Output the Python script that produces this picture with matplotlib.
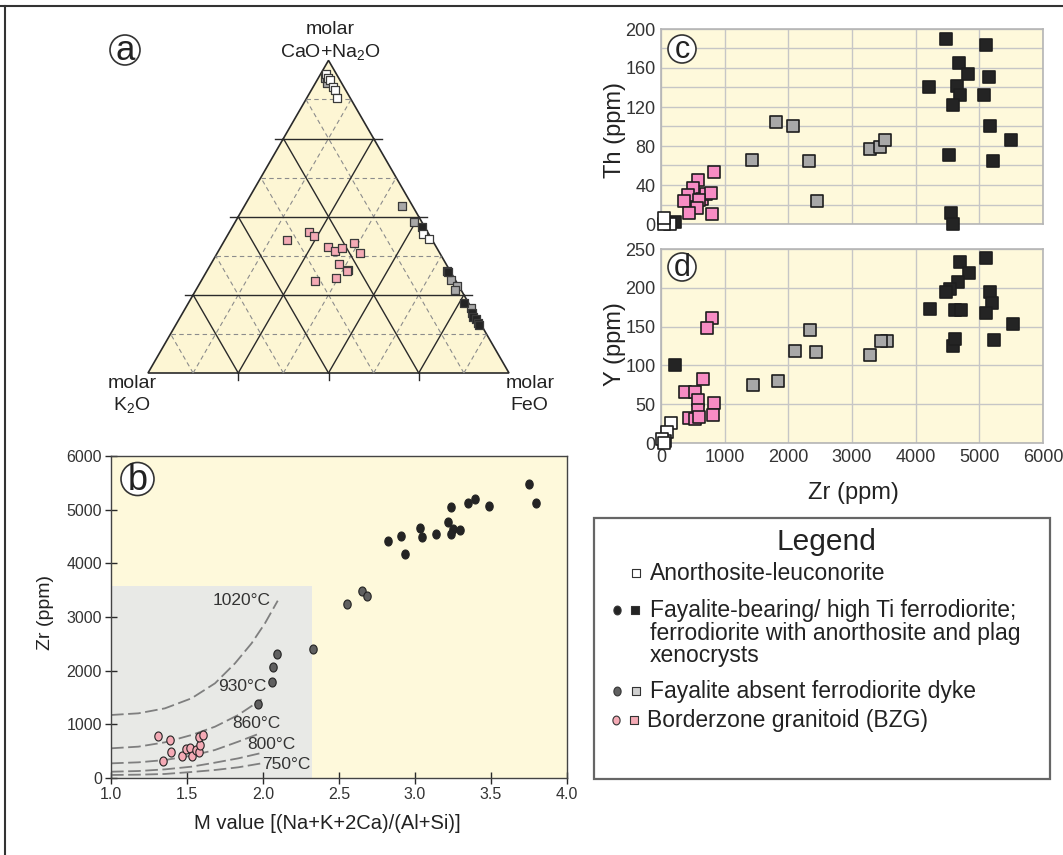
import numpy as np
import matplotlib
matplotlib.use("Agg")
import matplotlib.pyplot as plt
from matplotlib.path import Path
from matplotlib.patches import Polygon, Rectangle, Circle

plt.rcParams['font.family'] = ['Liberation Sans', 'DejaVu Sans']
plt.rcParams['mathtext.fontset'] = 'custom'
plt.rcParams['mathtext.rm'] = 'Liberation Sans'
plt.rcParams['mathtext.it'] = 'Liberation Sans:italic'

W, H = 1063, 855

# --- (a) ternary: molar CaO+Na2O (apex) and FeO fractions, K2O = remainder
tern_white_top = [0.955, 0.945, 0.936, 0.916, 0.904, 0.881, 0.444, 0.428]
tern_white_fe = [0.016, 0.026, 0.036, 0.054, 0.066, 0.083, 0.540, 0.564]
tern_gray_top = [0.942, 0.929, 0.534, 0.482, 0.299, 0.277, 0.267, 0.209]
tern_gray_fe = [0.019, 0.031, 0.437, 0.496, 0.689, 0.718, 0.717, 0.790]
tern_black_top = [0.466, 0.325, 0.322, 0.225, 0.193, 0.180, 0.174, 0.161, 0.154]
tern_black_fe = [0.526, 0.666, 0.670, 0.763, 0.801, 0.810, 0.822, 0.834, 0.840]
tern_pink_top = [0.424, 0.450, 0.437, 0.402, 0.389, 0.399, 0.415, 0.383,
                 0.350, 0.328, 0.325, 0.305, 0.293]
tern_pink_fe = [0.173, 0.221, 0.241, 0.298, 0.323, 0.338, 0.364, 0.396,
                0.354, 0.390, 0.389, 0.368, 0.316]

# --- (b) M value vs Zr
b_black_m = [3.748, 3.794, 3.488, 3.396, 3.350, 3.236, 3.218, 3.247, 3.295,
             3.234, 3.137, 3.032, 3.043, 2.905, 2.820, 2.936]
b_black_zr = [5485, 5131, 5075, 5206, 5119, 5051, 4771, 4647, 4623,
              4542, 4554, 4653, 4498, 4511, 4424, 4169]
b_gray_m = [2.653, 2.686, 2.555, 2.331, 2.095, 2.066, 2.062, 1.968]
b_gray_zr = [3493, 3394, 3251, 2407, 2308, 2060, 1781, 1384]
b_pink_m = [1.307, 1.385, 1.339, 1.396, 1.466, 1.491, 1.519, 1.534, 1.558,
            1.578, 1.587, 1.582, 1.602]
b_pink_zr = [788, 707, 323, 478, 416, 534, 552, 416, 521, 490, 620, 763, 807]

# zircon saturation isotherms
iso_labels = ['1020°C', '930°C', '860°C', '800°C', '750°C']
iso_m = [
    [1.0, 1.18, 1.355, 1.53, 1.684, 1.816, 1.925, 2.013, 2.097],
    [1.0, 1.18, 1.355, 1.53, 1.684, 1.837, 1.991],
    [1.0, 1.18, 1.355, 1.53, 1.684, 1.837, 1.98],
    [1.0, 1.18, 1.355, 1.53, 1.684, 1.837, 1.98],
    [1.0, 1.18, 1.355, 1.53, 1.684, 1.837, 1.99],
]
iso_zr = [
    [1174, 1205, 1298, 1485, 1764, 2137, 2510, 2883, 3304],
    [553, 584, 665, 801, 956, 1174, 1466],
    [273, 292, 335, 416, 522, 677, 832],
    [117, 130, 161, 211, 286, 366, 460],
    [56, 62, 75, 112, 149, 199, 273],
]
iso_label_m = [1.86, 1.865, 1.957, 2.055, 2.154]
iso_label_zr = [3300, 1706, 1024, 620, 248]

# --- (c) Zr vs Th and (d) Zr vs Y
c_black_zr = [4476, 5110, 4675, 4817, 5152, 4215, 4654, 4702, 5079, 4586,
              5162, 5497, 4524, 5220, 4560, 4592, 225]
c_black_th = [189.7, 183.5, 165, 154, 151, 141, 141.6, 132, 132.6, 122,
              100, 86.6, 70.8, 64.6, 11, 0, 1.7]
c_gray_zr = [1801, 2073, 1429, 2319, 2450, 3277, 3435, 3513]
c_gray_th = [104.8, 100.7, 66, 65, 23.7, 77, 79.4, 86]
c_pink_zr = [827, 576, 503, 419, 356, 644, 712, 791, 602, 560, 445, 796]
c_pink_th = [53, 45, 36.8, 30, 23.7, 26, 31, 31.6, 24.7, 16, 11, 10.3]
c_white_zr = [147, 52, 42]
c_white_th = [0, 0, 6.2]

d_black_zr = [5110, 4702, 4832, 4665, 4545, 4482, 5162, 5199, 4230, 4613,
              4717, 5105, 5524, 4581, 4613, 5236, 225]
d_black_y = [239, 233, 219, 208, 198, 195, 195, 181, 173, 171.6,
             171.6, 167, 153, 125, 133.6, 132.8, 100.4]
d_gray_zr = [2335, 2100, 2440, 3550, 3461, 3277, 1832, 1440]
d_gray_y = [145.7, 119, 116.8, 132, 132, 113, 80, 75]
d_pink_zr = [801, 728, 654, 372, 539, 576, 838, 576, 435, 529, 592, 817]
d_pink_y = [161.6, 147.8, 83, 66, 66, 55, 51.7, 43, 32, 31, 33.6, 35.8]
d_white_zr = [157, 94, 68, 16, 42]
d_white_y = [26, 13.8, 2.6, 5.6, 0]

YELLOW = '#fef9db'
TRI_FILL = '#fdf6d4'
GRAYBOX = '#e8e9e6'
BLACK = '#242424'
EDGE = '#1e1e1e'
SQ_GRAY = '#a8a8a8'
CI_GRAY = '#606060'
PINK_HOT = '#f78cc4'
PINK_PALE = '#f4aab5'
DARK = '#2a2a2a'

fig = plt.figure(figsize=(W / 100, H / 100), dpi=100)
fig.patch.set_facecolor('white')


def px_axes(x0, y0, x1, y1):
    return fig.add_axes([x0 / W, 1 - y1 / H, (x1 - x0) / W, (y1 - y0) / H])


# ---------------- (a) ternary diagram ----------------
ax_a = px_axes(100, 20, 560, 420)
ax_a.set_xlim((100 - 148) / 361, (560 - 148) / 361)
ax_a.set_ylim((373 - 420) / 361, (373 - 20) / 361)
ax_a.axis('off')
s3 = np.sqrt(3) / 2


def tern_xy(top, fe):
    top = np.asarray(top)
    fe = np.asarray(fe)
    return fe + top / 2, top * s3


ax_a.add_patch(Polygon([(0, 0), (1, 0), (0.5, s3)], closed=True,
                       fc=TRI_FILL, ec=DARK, lw=1.2, zorder=1))


def tern_line(p, q, **kw):
    x0, y0 = tern_xy(*p)
    x1, y1 = tern_xy(*q)
    ax_a.plot([x0, x1], [y0, y1], **kw)


for i in range(1, 8):
    t = i / 8
    if i % 2:
        kw = dict(color='#8c8c8c', lw=0.8, ls=(0, (4, 3)), zorder=2)
    else:
        kw = dict(color=DARK, lw=1.0, zorder=3)
    # constant CaO+Na2O, constant FeO, constant K2O
    tern_line((t, 0), (t, 1 - t), **kw)
    tern_line((0, t), (1 - t, t), **kw)
    tern_line((0, 1 - t), (1 - t, 0), **kw)
    if i % 2 == 0:
        xl, yl = tern_xy(t, 0)
        xr, yr = tern_xy(t, 1 - t)
        ax_a.plot([xl - 0.022, xl], [yl, yl], color=DARK, lw=1.0)
        ax_a.plot([xr, xr + 0.022], [yr, yr], color=DARK, lw=1.0)
        ax_a.plot([t, t], [0, -0.02], color=DARK, lw=1.0)

tern_style = dict(marker='s', s=29, linewidths=0.9, edgecolors='#3a3a3a',
                  zorder=5)
ax_a.scatter(*tern_xy(tern_pink_top, tern_pink_fe), c=PINK_PALE, **tern_style)
ax_a.scatter(*tern_xy(tern_gray_top, tern_gray_fe), c=SQ_GRAY, **tern_style)
ax_a.scatter(*tern_xy(tern_black_top, tern_black_fe), c=BLACK, **tern_style)
ax_a.scatter(*tern_xy(tern_white_top, tern_white_fe), c='white', **tern_style)

# ---------------- (b) M vs Zr ----------------
ax_b = px_axes(111, 456, 567, 778)
ax_b.set_facecolor(YELLOW)
ax_b.set_xlim(1.0, 4.0)
ax_b.set_ylim(0, 6000)
ax_b.add_patch(Rectangle((1.0, 0), 1.32, 3580, fc=GRAYBOX, ec='none',
                         zorder=0.5))
for m, zr in zip(iso_m, iso_zr):
    ax_b.plot(m, zr, color='#7f7f7f', lw=1.3, ls=(0, (7, 2.5)), zorder=2)
for lab, m, zr in zip(iso_labels, iso_label_m, iso_label_zr):
    ax_b.text(m, zr, lab, fontsize=12.5, color='#333333', ha='center',
              va='center', zorder=3)

t = np.linspace(0, 2 * np.pi, 60)
ellipse = Path(np.column_stack([0.82 * np.cos(t), np.sin(t)]))
b_style = dict(marker=ellipse, s=42, linewidths=0.8, edgecolors='#222222',
               zorder=4)
ax_b.scatter(b_pink_m, b_pink_zr, c=PINK_PALE, **b_style)
ax_b.scatter(b_gray_m, b_gray_zr, c=CI_GRAY, **b_style)
ax_b.scatter(b_black_m, b_black_zr, c=BLACK, **b_style)

ax_b.set_xticks(np.arange(1.0, 4.01, 0.5))
ax_b.set_xticklabels([f'{v:.1f}' for v in np.arange(1.0, 4.01, 0.5)])
ax_b.set_yticks(range(0, 6001, 1000))
ax_b.tick_params(direction='inout', length=9, width=1.0, color=DARK,
                 labelsize=11.5, labelcolor='#333333', pad=2)
for sp in ax_b.spines.values():
    sp.set_color('#444444')
    sp.set_linewidth(1.0)

# ---------------- (c) and (d) Zr vs Th / Y ----------------
ax_c = px_axes(661, 29, 1043, 224)
ax_d = px_axes(661, 249, 1043, 443)
sq_style = dict(marker='s', s=76, linewidths=1.2, edgecolors=EDGE,
                zorder=4, clip_on=False)
for ax in (ax_c, ax_d):
    ax.set_facecolor(YELLOW)
    ax.set_xlim(0, 6000)
    ax.set_xticks(range(0, 6001, 1000))
    ax.grid(which='both', color='#c6c6c6', lw=1.0, zorder=0)
    ax.set_axisbelow(True)
    ax.tick_params(which='both', length=0, labelsize=13,
                   labelcolor='#333333', pad=4)
    for sp in ax.spines.values():
        sp.set_color('#b5b5b5')
        sp.set_linewidth(1.2)

ax_c.set_ylim(0, 200)
ax_c.set_yticks(range(0, 201, 40))
ax_c.set_yticks(range(20, 200, 40), minor=True)
ax_c.tick_params(labelbottom=False)
ax_c.scatter(c_gray_zr, c_gray_th, c=SQ_GRAY, **sq_style)
ax_c.scatter(c_pink_zr, c_pink_th, c=PINK_HOT, **sq_style)
ax_c.scatter(c_black_zr, c_black_th, c=BLACK, **sq_style)
ax_c.scatter(c_white_zr, c_white_th, c='white', **sq_style)

ax_d.set_ylim(0, 250)
ax_d.set_yticks(range(0, 251, 50))
ax_d.scatter(d_gray_zr, d_gray_y, c=SQ_GRAY, **sq_style)
ax_d.scatter(d_pink_zr, d_pink_y, c=PINK_HOT, **sq_style)
ax_d.scatter(d_black_zr, d_black_y, c=BLACK, **sq_style)
ax_d.scatter(d_white_zr, d_white_y, c='white', **sq_style)

# ---------------- overlay: labels, frame, legend ----------------
ov = fig.add_axes([0, 0, 1, 1], zorder=10)
ov.set_xlim(0, W)
ov.set_ylim(H, 0)
ov.axis('off')
ov.patch.set_alpha(0)

ov.plot([0, W], [6, 6], color='#333333', lw=1.5)
ov.plot([5, 5], [6, H], color='#333333', lw=1.5)

for (cx, cy, r, letter, fs) in [(125, 50, 15, 'a', 25), (137.5, 479, 16.5, 'b', 26),
                                (682, 49, 14, 'c', 22), (682, 267, 14, 'd', 22)]:
    ov.add_patch(Circle((cx, cy), r, fc='white', ec='#333333', lw=1.2))
    ov.text(cx, cy + 1, letter, fontsize=fs, ha='center', va='center',
            color='#222222')

txt = dict(fontsize=14, ha='center', va='center', color='#222222')
ov.text(330, 30, 'molar', **txt)
ov.text(330, 52, 'CaO+Na$_2$O', **txt)
ov.text(132, 383, 'molar', **txt)
ov.text(132, 405, 'K$_2$O', **txt)
ov.text(530, 383, 'molar', **txt)
ov.text(529, 405, 'FeO', **txt)

ov.text(45, 612, 'Zr (ppm)', fontsize=14, rotation=90, ha='center',
        va='center', color='#222222')
ov.text(327, 823, 'M value [(Na+K+2Ca)/(Al+Si)]', fontsize=14.5,
        ha='center', va='center', color='#222222')
ov.text(615, 130, 'Th (ppm)', fontsize=17, rotation=90, ha='center',
        va='center', color='#222222')
ov.text(615, 344, 'Y (ppm)', fontsize=17, rotation=90, ha='center',
        va='center', color='#222222')
ov.text(853, 493, 'Zr (ppm)', fontsize=17, ha='center', va='center',
        color='#222222')

ov.add_patch(Rectangle((594, 518), 456, 261, fc='white', ec='#666666',
                       lw=1.6))
ov.text(826, 542, 'Legend', fontsize=21.5, ha='center', va='center',
        color='#222222')
leg = dict(fontsize=16.5, ha='left', va='center', color='#222222')
ov.text(650, 573, 'Anorthosite-leuconorite', **leg)
ov.text(650, 610, 'Fayalite-bearing/ high Ti ferrodiorite;', **leg)
ov.text(650, 633, 'ferrodiorite with anorthosite and plag', **leg)
ov.text(650, 655, 'xenocrysts', **leg)
ov.text(650, 691, 'Fayalite absent ferrodiorite dyke', **leg)
ov.text(647, 720, 'Borderzone granitoid (BZG)', **leg)

lsq = dict(marker='s', s=32, linewidths=0.8, edgecolors='#333333')
lci = dict(marker=ellipse, s=40, linewidths=0.8, edgecolors='#333333')
ov.scatter([636], [573], c='white', **lsq)
ov.scatter([617], [610], c=BLACK, **lci)
ov.scatter([635], [610], c=BLACK, **lsq)
ov.scatter([617], [691], c=CI_GRAY, **lci)
ov.scatter([636], [691], c='#d0d0d0', **lsq)
ov.scatter([616], [720], c=PINK_PALE, **lci)
ov.scatter([634], [720], c=PINK_PALE, **lsq)

fig.savefig('out.png', dpi=100)
